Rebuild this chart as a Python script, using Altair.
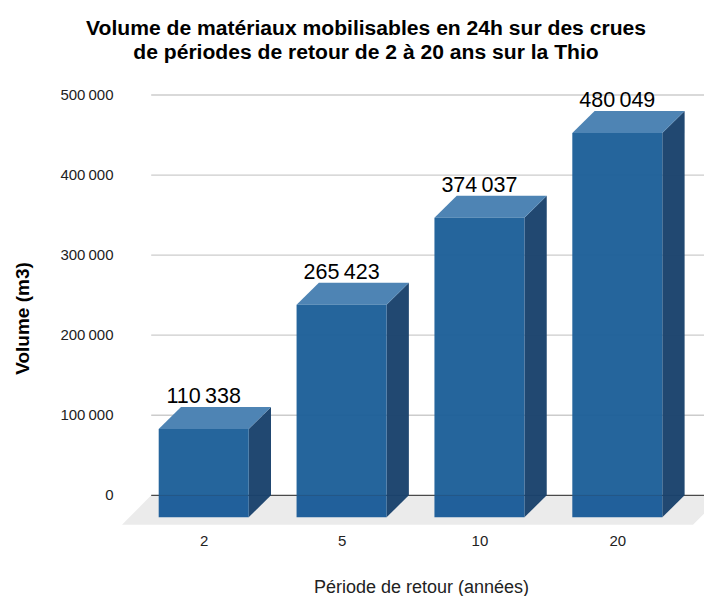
import altair as alt
import pandas as pd

# Chart values
periods = ["2", "5", "10", "20"]
volumes = [110338, 265423, 374037, 480049]
y_ticks = [0, 100000, 200000, 300000, 400000, 500000]
title_lines = [
    "Volume de matériaux mobilisables en 24h sur des crues",
    "de périodes de retour de 2 à 20 ans sur la Thio",
]

# 3D projection constants, in scale units
HALF = 45.0 / 137.87
DX = 22.3 / 137.87
DY = 22.0 / 0.0008006
PLOT_W = 582
X_MIN = -0.5926
X_MAX = X_MIN + PLOT_W / 137.87
Y_MIN, Y_MAX = -37097, 501250
FLOOR_DX = 29.2 / 137.87
FLOOR_DY = 29.5 / 0.0008006
NB = "\u2009"


def fmt(v):
    return f"{v:,}".replace(",", NB)


x_scale = alt.Scale(domain=[X_MIN, X_MAX], nice=False, zero=False)
y_scale = alt.Scale(domain=[Y_MIN, Y_MAX], nice=False, zero=False)

rows = pd.DataFrame({"i": range(len(volumes)), "v": volumes, "label": [fmt(v) for v in volumes]})
rows["l"] = rows.i - HALF
rows["r"] = rows.i + HALF
rows["front_top"] = rows.v - DY
rows["front_bottom"] = -DY
rows["zero"] = 0

side, top = [], []
for _, b in rows.iterrows():
    side += [
        {"b": b.i, "x": b.r, "y": b.v - DY, "y2": -DY},
        {"b": b.i, "x": b.r + DX, "y": b.v, "y2": 0},
    ]
    top += [
        {"b": b.i, "y": b.v - DY, "x": b.l, "x2": b.r},
        {"b": b.i, "y": b.v, "x": b.l + DX, "x2": b.r + DX},
    ]
side = pd.DataFrame(side)
top = pd.DataFrame(top)

floor = pd.DataFrame([
    {"y": -FLOOR_DY, "x": X_MIN, "x2": X_MIN + 571 / 137.87},
    {"y": 0, "x": X_MIN + FLOOR_DX, "x2": X_MIN + FLOOR_DX + 571 / 137.87},
])

grid = pd.DataFrame({"y": y_ticks, "x": X_MIN + FLOOR_DX, "x2": X_MAX})

y_axis = alt.Axis(
    values=y_ticks,
    labelExpr=f"replace(format(datum.value, ','), ',', '{NB}')",
    labelFont="Liberation Sans",
    labelFontSize=15,
    labelColor="#222222",
    labelPadding=9,
    labelOffset=-1,
    labelOverlap=False,
    domain=False,
    ticks=False,
    grid=False,
    title="Volume (m3)",
    titleFont="Liberation Sans",
    titleFontSize=19,
    titleFontWeight="bold",
    titleColor="#000000",
    titleAngle=-90,
    titleX=-90,
    titleY=224,
)
x_axis = alt.Axis(
    values=list(range(len(periods))),
    labelExpr=str(periods) + "[datum.value]",
    labelFont="Liberation Sans",
    labelFontSize=15,
    labelColor="#222222",
    labelPadding=8,
    labelOverlap=False,
    domain=False,
    ticks=False,
    grid=False,
    title="Période de retour (années)",
    titleFont="Liberation Sans",
    titleFontSize=18,
    titleFontWeight="normal",
    titleColor="#222222",
    titleX=299,
    titleY=53,
)


def X(field):
    return alt.X(field, scale=x_scale, axis=x_axis)


def Y(field):
    return alt.Y(field, scale=y_scale, axis=y_axis)


floor_layer = alt.Chart(floor).mark_area(orient="horizontal", color="#ebebeb", clip=True).encode(
    y=Y("y:Q"), x=X("x:Q"), x2="x2:Q"
)
grid_layer = alt.Chart(grid[grid.y > 0]).mark_rule(color="#cccccc", strokeWidth=1.3, clip=True).encode(
    y=Y("y:Q"), x=X("x:Q"), x2="x2:Q"
)
zero_layer = alt.Chart(grid[grid.y == 0]).mark_rule(color="#4a4a4a", strokeWidth=1.2, clip=True).encode(
    y=Y("y:Q"), x=X("x:Q"), x2="x2:Q"
)
side_layer = alt.Chart(side).mark_area(color="#1a426c", opacity=0.97).encode(
    x=X("x:Q"), y=Y("y:Q"), y2="y2:Q", detail="b:N"
)
top_layer = alt.Chart(top).mark_area(orient="horizontal", color="#4e84b4").encode(
    y=Y("y:Q"), x=X("x:Q"), x2="x2:Q", detail="b:N"
)
front_upper = alt.Chart(rows).mark_rect(color="#1c5f98", opacity=0.96).encode(
    x=X("l:Q"), x2="r:Q", y=Y("front_top:Q"), y2="zero:Q"
)
front_lower = alt.Chart(rows).mark_rect(color="#1a5b98", opacity=0.97).encode(
    x=X("l:Q"), x2="r:Q", y=Y("zero:Q"), y2="front_bottom:Q"
)
labels = alt.Chart(rows).mark_text(
    font="Liberation Sans", fontSize=21.5, color="#000000", baseline="alphabetic", dy=-4
).encode(x=X("i:Q"), y=Y("v:Q"), text="label:N")

chart = alt.layer(
    floor_layer, grid_layer, zero_layer, side_layer, top_layer, front_upper, front_lower, labels
).properties(
    width=PLOT_W,
    height=431,
    background="#ffffff",
    padding={"left": 114, "top": 86, "right": 0, "bottom": 71},
    autosize=alt.AutoSizeParams(type="none", contains="content"),
    title=alt.TitleParams(
        text=title_lines,
        font="Liberation Sans",
        fontSize=21.1,
        fontWeight="bold",
        color="#000000",
        anchor="middle",
        lineHeight=24.7,
        dx=-47,
        offset=23.5,
    ),
).configure_view(stroke=None)

chart.save("out.html", embed_options={"renderer": "svg", "actions": False})
